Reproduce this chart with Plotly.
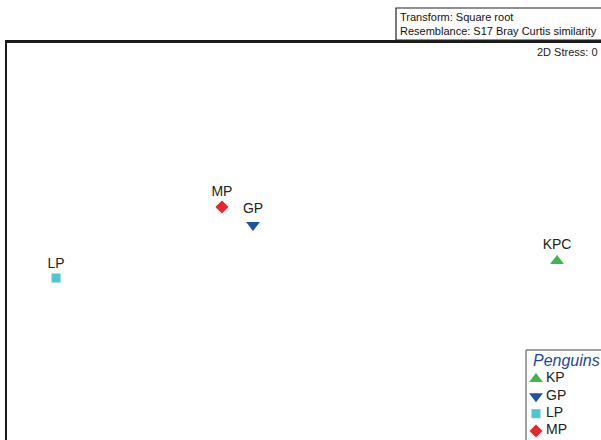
import plotly.graph_objects as go

# nMDS coordinates (arbitrary units)
groups = ["KP", "GP", "LP", "MP"]
point_labels = ["KPC", "GP", "LP", "MP"]
mds_x = [2.067, 0.040, -1.273, -0.167]
mds_y = [-0.306, -0.066, -0.420, 0.053]

symbols = ["triangle-up", "triangle-down", "square", "diamond"]
colors = ["#3fb64a", "#1e52a5", "#4ec6d3", "#e5262b"]
sizes = [12, 12, 9, 10]

legend_title = "Penguins"
header_lines = ["Transform: Square root", "Resemblance: S17 Bray Curtis similarity"]
stress_text = "2D Stress: 0"

FONT = "Liberation Sans, Arial, sans-serif"

fig = go.Figure()

for i, g in enumerate(groups):
    fig.add_trace(go.Scatter(
        x=[mds_x[i]], y=[mds_y[i]], mode="markers+text",
        text=[point_labels[i]], textposition="top center",
        textfont=dict(family=FONT, size=14, color="#222222"),
        marker=dict(symbol=symbols[i], color=colors[i], size=sizes[i], line=dict(width=0)),
        name=g, showlegend=False, cliponaxis=False,
    ))

# legend entries drawn on an overlay axis inside the legend box
for i, g in enumerate(groups):
    fig.add_trace(go.Scatter(
        x=[10], y=[i], xaxis="x2", yaxis="y2", mode="markers",
        marker=dict(symbol=symbols[i], color=colors[i], size=sizes[i], line=dict(width=0)),
        name=g, showlegend=False, cliponaxis=False,
    ))
    fig.add_trace(go.Scatter(
        x=[20], y=[i], xaxis="x2", yaxis="y2", mode="text",
        text=[g], textposition="middle right",
        textfont=dict(family=FONT, size=14, color="#222222"),
        name=g, showlegend=False, cliponaxis=False,
    ))

PL, PT, PW, PH = 7, 43, 594, 397

def px(p):
    return (p - PL) / PW

def py(p):
    return (440 - p) / PH

shapes = [
    # header box
    dict(type="rect", xref="paper", yref="paper", x0=px(396), x1=px(640), y0=py(40), y1=py(8),
         line=dict(color="#222222", width=1.2), fillcolor="white", layer="above"),
    # legend box
    dict(type="rect", xref="paper", yref="paper", x0=px(526), x1=px(640), y0=py(480), y1=py(350),
         line=dict(color="#444444", width=1), fillcolor="rgba(0,0,0,0)", layer="above"),
]

annotations = [
    dict(xref="paper", yref="paper", x=px(398), y=py(17), text=header_lines[0], showarrow=False,
         xanchor="left", yanchor="middle", font=dict(family=FONT, size=11, color="#111111")),
    dict(xref="paper", yref="paper", x=px(398), y=py(31), text=header_lines[1], showarrow=False,
         xanchor="left", yanchor="middle", font=dict(family=FONT, size=11, color="#111111")),
    dict(xref="paper", yref="paper", x=px(600), y=py(52), text=stress_text, showarrow=False,
         xanchor="right", yanchor="middle", font=dict(family=FONT, size=11, color="#222222")),
    dict(xref="paper", yref="paper", x=px(531), y=py(360), text=legend_title, showarrow=False,
         xanchor="left", yanchor="middle",
         font=dict(family=FONT, size=16, color="#2146a6", style="italic")),
]

fig.update_layout(
    width=601, height=440,
    margin=dict(l=PL, r=0, t=PT, b=0, pad=0),
    paper_bgcolor="white", plot_bgcolor="white",
    showlegend=False,
    xaxis=dict(range=[-1.6, 2.36], showgrid=False, zeroline=False, showticklabels=False,
               ticks="", showline=True, linecolor="#1a1a1a", linewidth=2.5, side="top",
               fixedrange=True),
    yaxis=dict(range=[-1.5, 1.147], showgrid=False, zeroline=False, showticklabels=False,
               ticks="", showline=True, linecolor="#1a1a1a", linewidth=1.8, side="left",
               fixedrange=True),
    xaxis2=dict(domain=[px(526), 1], range=[0, 75], visible=False, anchor="y2", fixedrange=True),
    yaxis2=dict(domain=[0, py(350)], range=[3.52, -1.673], visible=False, anchor="x2",
                fixedrange=True),
    shapes=shapes,
    annotations=annotations,
)

fig.write_html(
    "out.html",
    config={"displayModeBar": False},
    post_script="document.body.style.margin='0';document.body.style.overflow='hidden';",
)
